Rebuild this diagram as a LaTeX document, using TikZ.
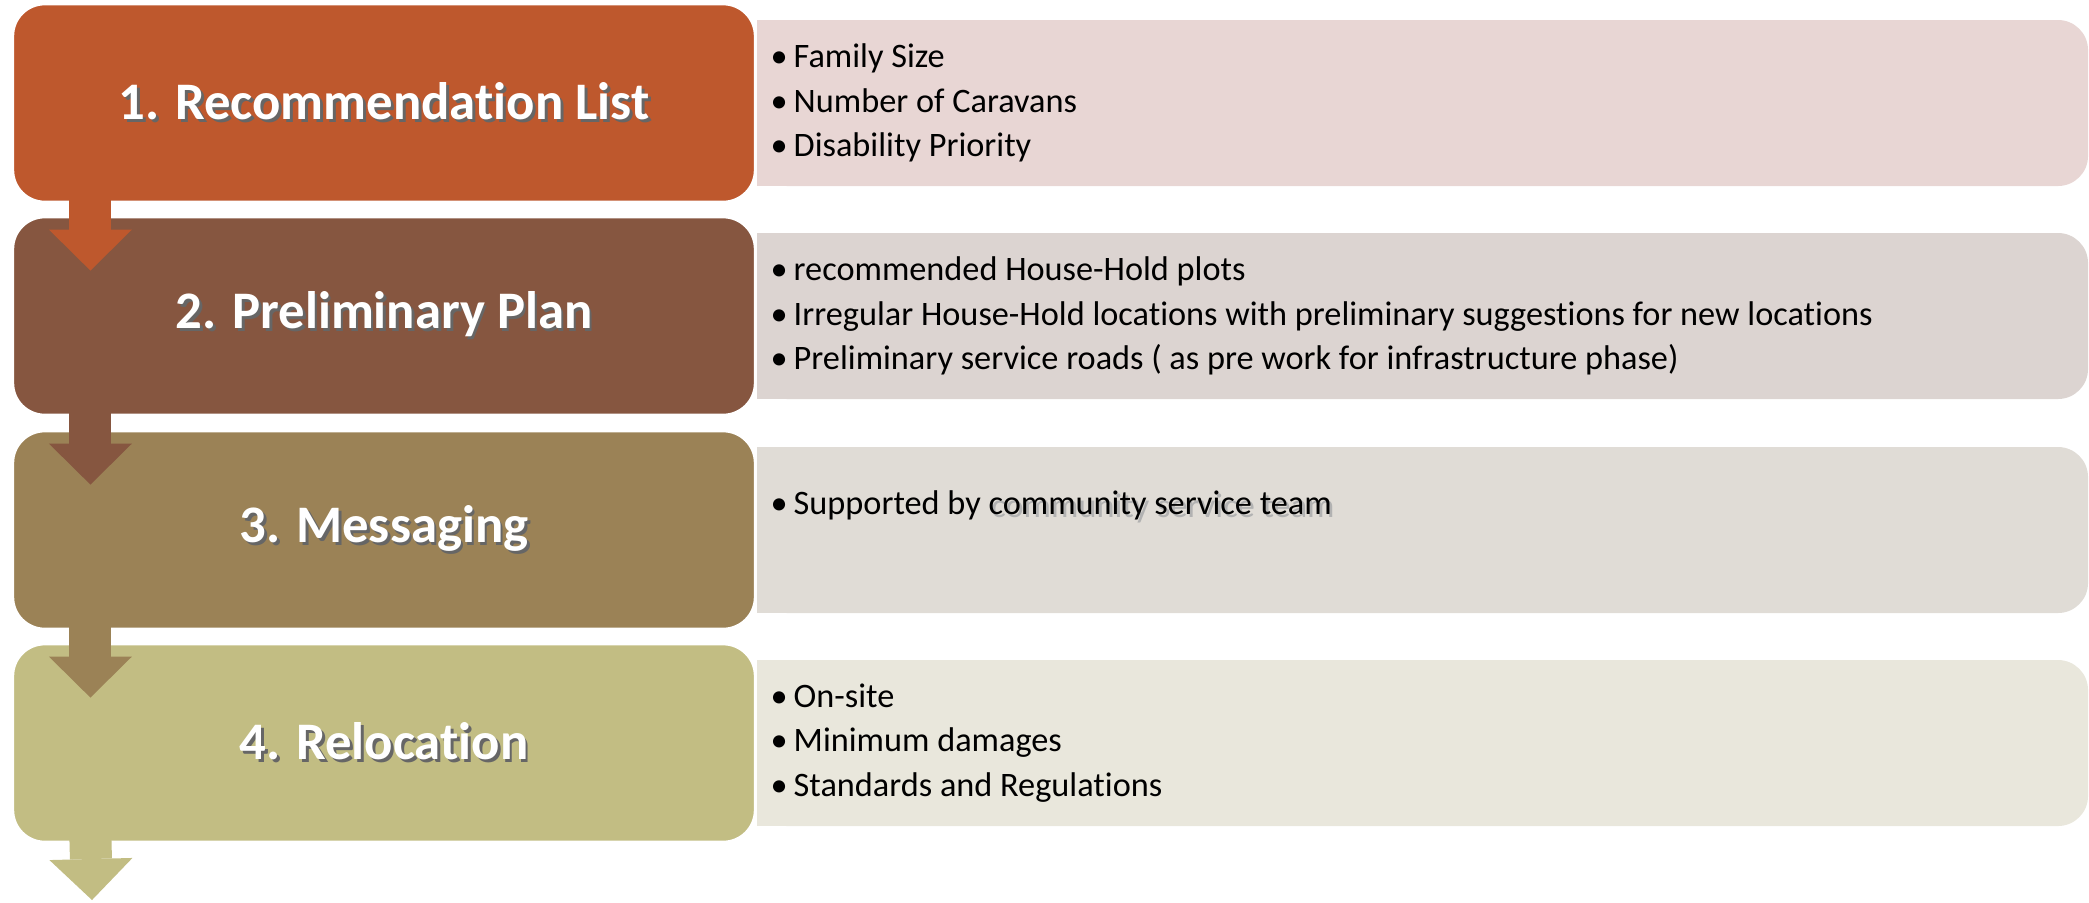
\documentclass[tikz,border=0pt]{standalone}
\usepackage{fontspec}
\setmainfont{Carlito}[Ligatures=NoCommon]
\usetikzlibrary{calc}
\usetikzlibrary{arrows.meta}
\usetikzlibrary{positioning}
\usepackage{xcolor}

\definecolor{stepA}{RGB}{190,88,45}
\definecolor{stepB}{RGB}{134,86,64}
\definecolor{stepC}{RGB}{155,130,86}
\definecolor{stepD}{RGB}{194,189,131}
\definecolor{noteA}{RGB}{232,214,212}
\definecolor{noteB}{RGB}{220,212,209}
\definecolor{noteC}{RGB}{224,220,214}
\definecolor{noteD}{RGB}{233,231,220}

\newcommand{\dropshadow}[2][black!60]{\leavevmode\rlap{\hspace{0.8pt}\raisebox{-0.8pt}{\textcolor{#1}{#2}}}#2}
\newcommand{\itm}{\makebox[0.23cm][l]{•}}

\tikzset{
  stagebox/.style={rectangle, rounded corners=0.32cm, minimum width=7.42cm, minimum height=1.98cm, draw=white, line width=0.8pt, text=white, font=\fontsize{15}{18}\selectfont\bfseries},
  notelist/.style={anchor=west, align=left, inner sep=0pt, font=\fontsize{9.75}{12.75}\selectfont},
  flow/.style={draw=#1, line width=0.42cm, -{Triangle[length=0.41cm, width=0.83cm, line width=0pt]}},
}

\begin{document}
\begin{tikzpicture}[x=0.01cm, y=-0.01cm]
\useasboundingbox (0,0) rectangle (2089,902);
% stages and their note panels
\foreach \i/\y/\col/\name in {1/103/A/1. Recommendation List, 2/316/B/2. Preliminary Plan, 3/530/C/3. Messaging, 4/743/D/4. Relocation} {
  \fill[note\col, rounded corners=0.3cm] (757,\y-83) rectangle (2088,\y+83);
  \fill[note\col] (757,\y-83) rectangle (850,\y+83);
  \node[stagebox, fill=step\col] (s\i) at (384,\y) {\dropshadow{\name}};
}
% down arrows
\foreach \i/\j/\col in {1/2/A, 2/3/B, 3/4/C}
  \draw[flow=step\col] ([xshift=0.79cm, yshift=0.05cm]s\i.south west) -- ([xshift=0.79cm, yshift=-0.55cm]s\j.north west);
\coordinate (tail) at (92,900);
\draw[flow=stepD] ([xshift=0.79cm, yshift=0.05cm]s4.south west) -- (tail);
% notes
\node[notelist] (n1) at (770,103) {\itm Family Size\\ \itm Number of Caravans\\ \itm Disability Priority};
\node[notelist] (n2) at (770,316) {\itm recommended House-Hold plots\\ \itm Irregular House-Hold locations with preliminary suggestions for new locations\\ \itm Preliminary service roads ( as pre work for infrastructure phase)};
\node[notelist] (n3) at (770,507) {\itm Supported by \dropshadow[black!30]{community service team}};
\node[notelist] (n4) at (770,743) {\itm On-site\\ \itm Minimum damages\\ \itm Standards and Regulations};
\end{tikzpicture}
\end{document}
